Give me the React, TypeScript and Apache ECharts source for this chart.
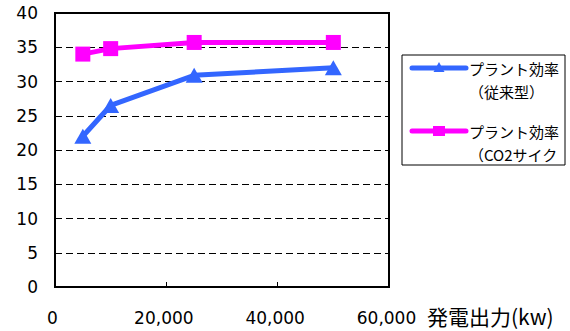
import React, { useEffect, useRef } from "react";
import * as echarts from "echarts";

// Plant output (kW) and efficiency (%)
const outputKw = [5000, 10000, 25000, 50000];
const efficiencyConventional = [22, 26.5, 30.9, 32];
const efficiencyCo2Cycle = [34, 34.8, 35.7, 35.7];

const seriesNames = ["プラント効率（従来型）", "プラント効率（CO2サイクル）"];
const legendLines = [
  ["プラント効率", "（従来型）"],
  ["プラント効率", "（CO2サイク"],
];
const xAxisTitle = "発電出力(kw)";

const BLUE = "#3366FF";
const PINK = "#FF00FF";
const NUM_FONT = "'DejaVu Sans', sans-serif";
const JP_FONT = "'Noto Sans CJK JP', sans-serif";

const withCommas = (v: number) =>
  String(v).replace(/\B(?=(\d{3})+(?!\d))/g, ",");

export default function App() {
  const ref = useRef<HTMLDivElement>(null);

  useEffect(() => {
    if (!ref.current) return;
    const chart = echarts.init(ref.current, undefined, { renderer: "svg" });

    // hand-drawn legend box at the right of the plot
    const legendItems: any[] = [
      {
        type: "rect",
        shape: { x: 402, y: 55, width: 163, height: 110 },
        style: { fill: "#fff", stroke: "#000", lineWidth: 1 },
      },
    ];
    const itemY = [68, 131];
    [BLUE, PINK].forEach((c, i) => {
      const y = itemY[i];
      legendItems.push({
        type: "line",
        shape: { x1: 412, y1: y, x2: 466, y2: y },
        style: { stroke: c, lineWidth: 5, lineCap: "round" },
      });
      if (i === 0) {
        legendItems.push({
          type: "polygon",
          shape: { points: [[439, y - 6], [444.5, y + 4], [433.5, y + 4]] },
          style: { fill: c },
        });
      } else {
        legendItems.push({
          type: "rect",
          shape: { x: 433, y: y - 5, width: 12, height: 10 },
          style: { fill: c },
        });
      }
      legendLines[i].forEach((t, k) => {
        legendItems.push({
          type: "text",
          x: 469,
          y: y + k * 23,
          style: {
            text: t,
            fontSize: 15,
            fontFamily: JP_FONT,
            fill: "#000",
            verticalAlign: "middle",
            align: "left",
          },
        });
      });
    });

    chart.setOption({
      animation: false,
      backgroundColor: "#fff",
      grid: {
        left: 55,
        top: 13,
        width: 334,
        height: 274,
        outerBoundsMode: "none",
        containLabel: false,
        show: true,
        borderColor: "#000",
        borderWidth: 2,
        backgroundColor: "transparent",
      },
      xAxis: {
        type: "value",
        min: 0,
        max: 60000,
        interval: 20000,
        name: xAxisTitle,
        nameLocation: "end",
        nameGap: 38,
        nameMoveOverlap: false,
        nameTextStyle: {
          fontSize: 21,
          fontFamily: JP_FONT,
          color: "#000",
          align: "left",
          verticalAlign: "top",
          lineHeight: 58,
        },
        axisLine: { show: false },
        axisTick: {
          show: true,
          inside: true,
          length: 5,
          lineStyle: { color: "#000", width: 1 },
        },
        splitLine: { show: false },
        axisLabel: {
          margin: 22,
          fontSize: 17,
          fontFamily: NUM_FONT,
          color: "#000",
          padding: [0, 5, 0, 0],
          formatter: (v: number) => withCommas(v),
        },
      },
      yAxis: {
        type: "value",
        min: 0,
        max: 40,
        interval: 5,
        axisLine: { show: false },
        axisTick: { show: false },
        axisLabel: {
          margin: 17,
          fontSize: 17,
          fontFamily: NUM_FONT,
          color: "#000",
          padding: [4, 0, 0, 0],
        },
        splitLine: {
          show: true,
          lineStyle: { color: "#000", width: 1, type: [7, 4] },
        },
      },
      series: [
        {
          name: seriesNames[0],
          type: "line",
          data: outputKw.map((x, i) => [x, efficiencyConventional[i]]),
          symbol: "triangle",
          symbolSize: [17, 15],
          lineStyle: { color: BLUE, width: 5 },
          itemStyle: { color: BLUE },
        },
        {
          name: seriesNames[1],
          type: "line",
          data: outputKw.map((x, i) => [x, efficiencyCo2Cycle[i]]),
          symbol: "rect",
          symbolSize: 15,
          lineStyle: { color: PINK, width: 5 },
          itemStyle: { color: PINK },
        },
      ],
      graphic: legendItems,
    });

    return () => chart.dispose();
  }, []);

  return (
    <div
      ref={ref}
      style={{ position: "fixed", left: 0, top: 0, width: 570, height: 331 }}
    />
  );
}
